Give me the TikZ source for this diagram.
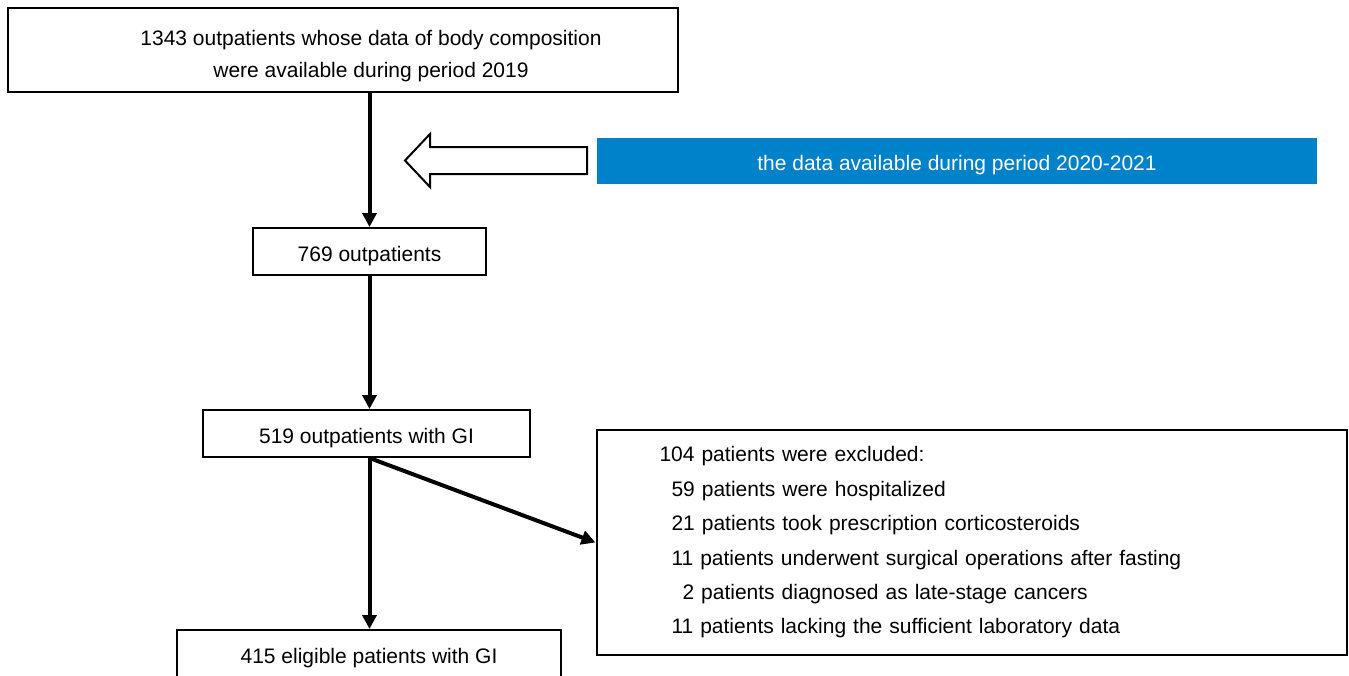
\documentclass[tikz,border=0pt]{standalone}
\usepackage{fontspec}
\setmainfont{Liberation Sans}
\usetikzlibrary{arrows.meta}
\definecolor{bannerblue}{RGB}{0,130,202}

\tikzset{
  box/.style={draw, line width=2pt, fill=white, align=center, inner sep=0pt,
    font=\fontsize{21}{32}\selectfont},
  oneline/.style={text height=19pt, text depth=0pt},
  flow/.style={line width=4pt, -{Triangle[length=14pt,width=14pt]}},
}

\begin{document}
\begin{tikzpicture}[x=1pt,y=-1pt]
\useasboundingbox (0,0) rectangle (1349,675);
\clip (0,0) rectangle (1349,675);

\node[box, minimum width=670pt, minimum height=84pt] (1343) at (343,50) {};
\node[align=center, font=\fontsize{21}{32}\selectfont] (1343text) at (371,56)
  {1343 outpatients whose data of body composition\\were available during period 2019};
\node[box, oneline, minimum width=233pt, minimum height=47pt] (769) at (369.5,251.5) {769 outpatients};
\node[box, oneline, minimum width=327pt, minimum height=47pt] (519) at (366.5,433.5) {519 outpatients with GI};
\node[box, oneline, minimum width=384pt, minimum height=47pt] (415) at (369,653.5) {415 eligible patients with GI};

\node[fill=bannerblue, text=white, oneline, minimum width=720pt, minimum height=46pt,
  font=\fontsize{21}{32}\selectfont] (2020) at (957,161) {the data available during period 2020-2021};

\node[box, align=left, text width=624pt, inner xsep=63pt, minimum height=225pt,
  font=\fontsize{21}{34.4}\selectfont] (104) at (971.5,542.5)
  {104 patients were excluded:\\
   \hspace*{12pt}59 patients were hospitalized\\
   \hspace*{12pt}21 patients took prescription corticosteroids\\
   \hspace*{12pt}11 patients underwent surgical operations after fasting\\
   \hspace*{23pt}2 patients diagnosed as late-stage cancers\\
   \hspace*{12pt}11 patients lacking the sufficient laboratory data};

% hollow arrow
\draw[line width=2pt, fill=white] (587,147) -- (430,147) -- (430,134) -- (405,160.5)
  -- (430,187) -- (430,174) -- (587,174) -- cycle;

\draw[flow] (1343.south -| 769.north) -- (769.north);
\draw[flow] (769.south) -- (769.south |- 519.north);
\draw[flow] (519.south -| 769.south) -- (769.south |- 415.north);
\draw[flow] (519.south -| 769.south) -- (104.west);
\end{tikzpicture}
\end{document}
